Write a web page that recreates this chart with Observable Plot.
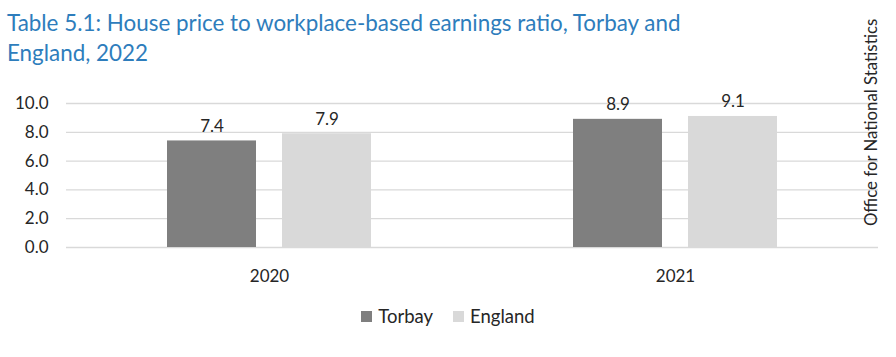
<!DOCTYPE html>
<html>
<head>
<meta charset="utf-8">
<script src="https://cdn.jsdelivr.net/npm/d3@7"></script>
<script src="https://cdn.jsdelivr.net/npm/@observablehq/plot@0.6"></script>
<style>
  html, body { margin: 0; padding: 0; background: #fff; }
  body { width: 896px; height: 357px; position: relative; overflow: hidden; font-family: Lato, "Open Sans", sans-serif; }
  #title { position: absolute; left: 7px; top: 8px; font-size: 22.4px; line-height: 30px; color: #2E7DBC; white-space: nowrap; }
  #chart { position: absolute; left: 0; top: 70px; }
  #legend { position: absolute; left: 0; top: 305px; width: 896px; display: flex; justify-content: center; gap: 20px; font-size: 18.5px; color: #262626; line-height: 22px; }
  #legend .item { display: flex; align-items: center; gap: 6px; }
  #legend .sw { width: 11px; height: 11px; display: inline-block; }
  #source { position: absolute; left: 860px; top: 20px; height: 206px; writing-mode: vertical-rl; transform: rotate(180deg); font-size: 16.8px; color: #262626; white-space: nowrap; text-align: left; }
</style>
</head>
<body>
<div id="title">Table 5.1: House price to workplace-based earnings ratio, Torbay and<br>England, 2022</div>
<div id="chart"></div>
<div id="legend"></div>
<div id="source">Office for National Statistics</div>
<script>
const years = ["2020", "2021"];
const areas = ["Torbay", "England"];
const torbay = [7.4, 8.9];
const england = [7.9, 9.1];
const yTicks = [0, 2, 4, 6, 8, 10];
const colors = ["#7F7F7F", "#D9D9D9"];

const data = [];
years.forEach((y, i) => {
  data.push({year: y, area: "Torbay", value: torbay[i]});
  data.push({year: y, area: "England", value: england[i]});
});

const chart = Plot.plot({
  width: 896,
  height: 227,
  marginLeft: 65,
  marginRight: 18,
  marginTop: 33,
  marginBottom: 50,
  style: {fontFamily: "Lato, 'Open Sans', sans-serif", fontSize: "17px", color: "#262626", background: "white"},
  fx: {domain: years, padding: 0, axis: "bottom", tickSize: 0, tickPadding: 22, label: null},
  x: {domain: areas, axis: null, paddingInner: 0.224, paddingOuter: 0.864},
  y: {domain: [0, 10], ticks: yTicks, tickFormat: d3.format(".1f"), tickSize: 0, tickPadding: 18, label: null, grid: false},
  color: {domain: areas, range: colors},
  marks: [
    Plot.gridY(yTicks, {stroke: "#D9D9D9", strokeOpacity: 1, strokeWidth: 1.3}),
    Plot.barY(data, {fx: "year", x: "area", y: "value", fill: "area"}),
    Plot.text(data, {fx: "year", x: "area", y: "value", text: d => d.value.toFixed(1), dy: -9, lineAnchor: "bottom", fill: "#262626", fontSize: 17})
  ]
});
document.getElementById("chart").appendChild(chart);

const legend = d3.select("#legend");
areas.forEach((a, i) => {
  const it = legend.append("div").attr("class", "item");
  it.append("span").attr("class", "sw").style("background", colors[i]);
  it.append("span").text(a);
});
</script>
</body>
</html>
